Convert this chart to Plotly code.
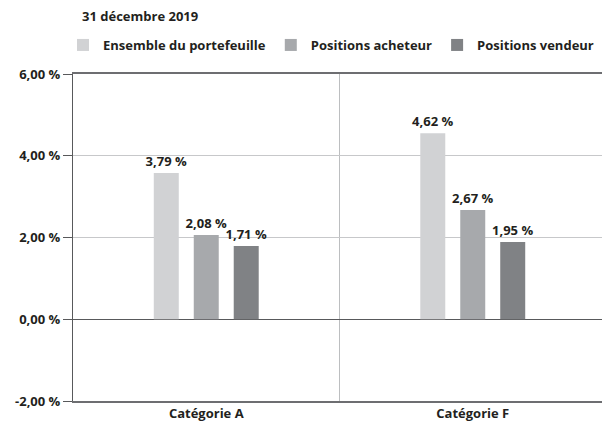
"""Grouped bar chart: portfolio positions, 31 décembre 2019."""

import plotly.graph_objects as go

categories = ["Catégorie A", "Catégorie F"]
series_names = ["Ensemble du portefeuille", "Positions acheteur", "Positions vendeur"]
# bar heights as drawn in the picture (%)
ensemble = [3.58, 4.55]
acheteur = [2.06, 2.67]
vendeur = [1.79, 1.89]
# printed labels
ensemble_labels = ["3,79 %", "4,62 %"]
acheteur_labels = ["2,08 %", "2,67 %"]
vendeur_labels = ["1,71 %", "1,95 %"]

y_ticks = [-2, 0, 2, 4, 6]
y_tick_labels = ["-2,00 %", "0,00 %", "2,00 %", "4,00 %", "6,00 %"]

colors = ["#d1d2d4", "#a7a9ac", "#808285"]
text_color = "#231f20"
font_family = "Open Sans, Lato, sans-serif"
fsize = 13

# the page body adds an 8px offset, so the figure is sized to fill the rest
W, H = 602, 421

fig = go.Figure()
for name, vals, labels, color in zip(
    series_names,
    [ensemble, acheteur, vendeur],
    [ensemble_labels, acheteur_labels, vendeur_labels],
    colors,
):
    fig.add_trace(
        go.Bar(
            x=categories, y=vals, name=name,
            marker=dict(color=color, line=dict(width=0)),
            text=labels, textposition="outside", constraintext="none",
            textfont=dict(size=fsize, color=text_color, family=font_family, weight="bold"),
            cliponaxis=False,
        )
    )

fig.update_layout(
    width=W, height=H,
    margin=dict(l=65, r=4, t=66, b=28, autoexpand=False),
    paper_bgcolor="white", plot_bgcolor="white",
    font=dict(family=font_family, size=fsize, color=text_color, weight="bold"),
    barmode="group",
    bargap=0.55, bargroupgap=0.375,
    title=dict(
        text="31 décembre 2019",
        x=74 / W, xanchor="left", xref="container",
        y=1 - 8 / H, yanchor="middle", yref="container",
        font=dict(size=fsize, weight="bold"),
    ),
    legend=dict(
        orientation="h", xref="container", x=55 / W, xanchor="left",
        yref="container", y=1 - 37 / H, yanchor="middle",
        font=dict(size=fsize, weight="bold"),
        itemclick=False, traceorder="normal",
    ),
    showlegend=True,
)

fig.update_xaxes(
    showline=True, mirror=True, linecolor="#6d6e71", linewidth=1.5,
    tickson="boundaries", ticks="", showgrid=True, gridcolor="#bcbec0", gridwidth=1,
    tickfont=dict(size=fsize, weight="bold"),
)
fig.update_yaxes(
    range=[-2, 6], tickvals=y_ticks, ticktext=y_tick_labels,
    showline=True, linecolor="#58595b", linewidth=1.2,
    ticks="outside", ticklen=9, tickcolor="#58595b", tickwidth=1,
    showgrid=True, gridcolor="#c7c8ca", gridwidth=1,
    zeroline=True, zerolinecolor="#58595b", zerolinewidth=1.3,
    tickfont=dict(size=fsize, weight="bold"),
)

fig.write_html("out.html")
